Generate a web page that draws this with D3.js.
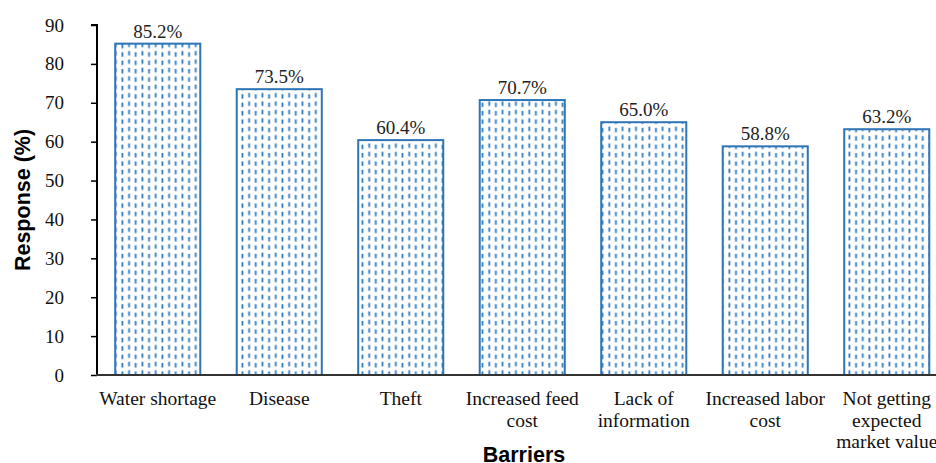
<!DOCTYPE html>
<html>
<head>
<meta charset="utf-8">
<script src="https://cdn.jsdelivr.net/npm/d3@7"></script>
<style>
  html, body { margin: 0; padding: 0; background: #fff; }
  svg { display: block; }
</style>
</head>
<body>
<svg id="chart" width="936" height="463"></svg>
<script>
const categories = [
  ["Water shortage"],
  ["Disease"],
  ["Theft"],
  ["Increased feed", "cost"],
  ["Lack of", "information"],
  ["Increased labor", "cost"],
  ["Not getting", "expected", "market value"]
];
const values = [85.2, 73.5, 60.4, 70.7, 65.0, 58.8, 63.2];
const yTicks = [0, 10, 20, 30, 40, 50, 60, 70, 80, 90];
const yTitle = "Response (%)";
const xTitle = "Barriers";

(function () {
const svg = d3.select("#chart");
const blue = "#2e75b6";
const serif = "'Liberation Serif', 'Times New Roman', serif";
const sans = "'Liberation Sans', Arial, sans-serif";

const mLeft = 97, mBottom = 375, mTop = 25;
const keys = categories.map(c => c.join(" "));
const x = d3.scaleBand().domain(keys).range([mLeft, 947.5]).paddingInner(0.3).paddingOuter(0.15);
const y = d3.scaleLinear().domain([0, 90]).range([mBottom, mTop]);

const defs = svg.append("defs");
const pat = defs.append("pattern")
  .attr("id", "dash").attr("patternUnits", "userSpaceOnUse")
  .attr("width", 13.34).attr("height", 8.4);
pat.append("rect").attr("width", 13.34).attr("height", 8.4).attr("fill", "#fff");
pat.append("line").attr("x1", 2.3).attr("x2", 2.3).attr("y1", 1.8).attr("y2", 6.3)
  .attr("stroke", "#2f7bbf").attr("stroke-width", 1.8);
pat.append("line").attr("x1", 9).attr("x2", 9).attr("y1", 0.6).attr("y2", 5.1)
  .attr("stroke", "#2f7bbf").attr("stroke-width", 1.8);

// bars
svg.append("g").selectAll("rect").data(values).join("rect")
  .attr("x", (d, i) => x(keys[i]))
  .attr("y", d => y(d))
  .attr("width", x.bandwidth())
  .attr("height", d => mBottom - y(d))
  .attr("fill", "url(#dash)")
  .attr("stroke", blue).attr("stroke-width", 2);

// value labels
svg.append("g").selectAll("text").data(values).join("text")
  .attr("x", (d, i) => x(keys[i]) + x.bandwidth() / 2)
  .attr("y", d => y(d) - 6)
  .attr("text-anchor", "middle")
  .attr("font-family", serif).attr("font-size", 19).attr("fill", "#222")
  .text(d => d.toFixed(1) + "%");

// y axis
const yAxis = d3.axisLeft(y).tickValues(yTicks).tickSize(6).tickPadding(27).tickFormat(d3.format("d"));
const gy = svg.append("g").attr("transform", `translate(${mLeft},0)`).call(yAxis);
gy.select(".domain").attr("stroke", "#000").attr("stroke-width", 2).attr("d", `M-6,${mTop}H0V${mBottom}`);
gy.selectAll(".tick line").attr("stroke", "#000").attr("stroke-width", 1.5);
gy.selectAll(".tick text").attr("font-family", serif).attr("font-size", 19).attr("fill", "#111");

// x axis
const xAxis = d3.axisBottom(x).tickSize(0).tickFormat("");
const gx = svg.append("g").attr("transform", `translate(0,${mBottom})`).call(xAxis);
gx.select(".domain").attr("stroke", "#333").attr("stroke-width", 2).attr("d", `M${mLeft - 1},0H936`);

// category labels
const cl = svg.append("g").selectAll("text").data(categories).join("text")
  .attr("x", (d, i) => x(keys[i]) + x.bandwidth() / 2)
  .attr("y", 405)
  .attr("text-anchor", "middle")
  .attr("font-family", serif).attr("font-size", 19.5).attr("fill", "#111");
cl.selectAll("tspan").data(d => d).join("tspan")
  .attr("x", function () { return d3.select(this.parentNode).attr("x"); })
  .attr("dy", (d, i) => i === 0 ? 0 : 21.5)
  .text(d => d);

// titles
svg.append("text")
  .attr("transform", `translate(30,200) rotate(-90)`)
  .attr("text-anchor", "middle")
  .attr("font-family", sans).attr("font-size", 21.5).attr("font-weight", "bold").attr("fill", "#000")
  .text(yTitle);
svg.append("text")
  .attr("x", 524).attr("y", 462)
  .attr("text-anchor", "middle")
  .attr("font-family", sans).attr("font-size", 21.5).attr("font-weight", "bold").attr("fill", "#000")
  .text(xTitle);
})();
</script>
</body>
</html>
